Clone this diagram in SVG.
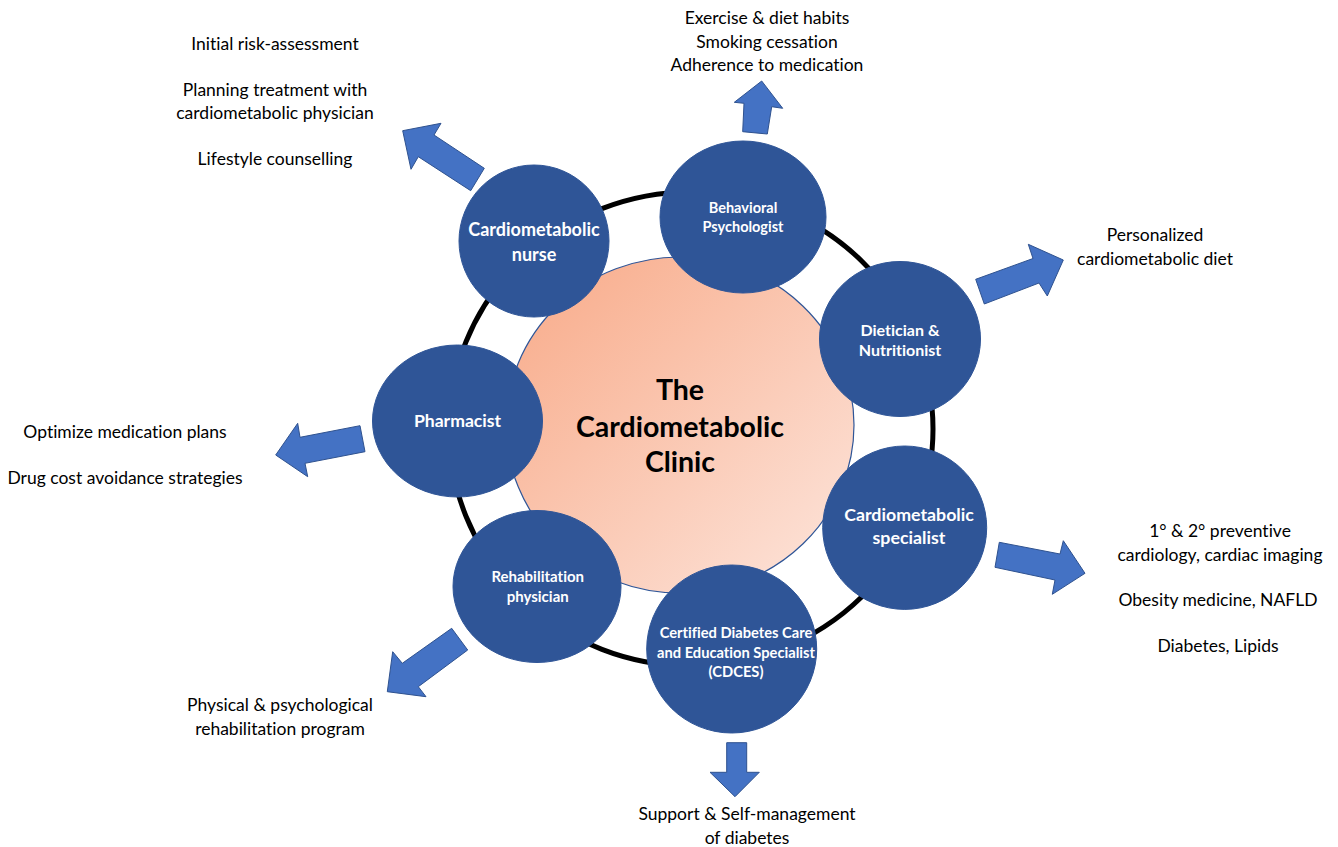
<svg xmlns="http://www.w3.org/2000/svg" width="1338" height="847" viewBox="0 0 1338 847">
<defs>
<linearGradient id="cg" x1="0" y1="0" x2="1" y2="1">
<stop offset="0" stop-color="#F8A987"/>
<stop offset="1" stop-color="#FDE6DD"/>
</linearGradient>
</defs>
<style>
text{font-variant-ligatures:none;font-feature-settings:"liga" 0,"dlig" 0}
.node{fill:#2F5597;stroke:#2F5597;stroke-width:1}
.nt{font-family:Lato,"Open Sans","Liberation Sans",sans-serif;font-weight:bold;fill:#FFFFFF;text-anchor:middle}
.lbl{font-family:Lato,"Open Sans","Liberation Sans",sans-serif;font-size:17.5px;fill:#000000;text-anchor:middle}
.arr{fill:#4472C4;stroke:#2F528F;stroke-width:1;stroke-linejoin:miter}
</style>
<rect width="1338" height="847" fill="#FFFFFF"/>
<g id="ring">
<ellipse cx="691" cy="429" rx="242" ry="237" fill="none" stroke="#000000" stroke-width="5"/>
</g>
<g id="clinic">
<ellipse cx="680" cy="425" rx="174" ry="168" fill="url(#cg)" stroke="#2F5597" stroke-width="1.2"/>
<text class="nt" style="fill:#000000" font-size="28.5" x="680" y="400">The</text>
<text class="nt" style="fill:#000000" font-size="28.5" x="680" y="436.5">Cardiometabolic</text>
<text class="nt" style="fill:#000000" font-size="28.5" x="680" y="471.5">Clinic</text>
</g>
<g id="nurse">
<ellipse class="node" cx="534" cy="241" rx="75" ry="76"/>
<text class="nt" font-size="18" x="534" y="236">Cardiometabolic</text>
<text class="nt" font-size="18" x="534" y="261">nurse</text>
</g>
<g id="psychologist">
<ellipse class="node" cx="743" cy="217" rx="83" ry="76"/>
<text class="nt" font-size="14.5" x="743" y="213">Behavioral</text>
<text class="nt" font-size="14.5" x="743" y="231.5">Psychologist</text>
</g>
<g id="dietician">
<ellipse class="node" cx="900" cy="339" rx="80.5" ry="77.5"/>
<text class="nt" font-size="16" x="900" y="335.5">Dietician &amp;</text>
<text class="nt" font-size="16" x="900" y="355.5">Nutritionist</text>
</g>
<g id="pharmacist">
<ellipse class="node" cx="457.5" cy="421" rx="85" ry="76"/>
<text class="nt" font-size="17.6" x="457.5" y="427">Pharmacist</text>
</g>
<g id="specialist">
<ellipse class="node" cx="904.7" cy="527.7" rx="82" ry="81.7"/>
<text class="nt" font-size="17.8" x="909" y="520.5">Cardiometabolic</text>
<text class="nt" font-size="17.8" x="909" y="543.5">specialist</text>
</g>
<g id="rehab">
<ellipse class="node" cx="537" cy="586.5" rx="84" ry="76"/>
<text class="nt" font-size="15" x="537.7" y="582">Rehabilitation</text>
<text class="nt" font-size="15" x="537.7" y="601.5">physician</text>
</g>
<g id="cdces">
<ellipse class="node" cx="731.7" cy="649" rx="85" ry="84"/>
<text class="nt" font-size="14.7" x="736" y="638">Certified Diabetes Care</text>
<text class="nt" font-size="14.7" x="736" y="657.5">and Education Specialist</text>
<text class="nt" font-size="14.7" x="736" y="677">(CDCES)</text>
</g>
<g id="connectors">
<polygon class="arr" points="402.7,130.7 441,123.3 434,135 484.3,168.3 470.7,190.7 418.3,156.7 411,169.3"/>
<polygon class="arr" points="761.7,81 782.7,108.3 771.7,106.7 767.3,134 742.7,131.7 744,103.3 734.3,102.3"/>
<polygon class="arr" points="1063.3,260 1047.3,296 1039,283 984.3,304 975.7,279.3 1033,258.5 1028.3,244.3"/>
<polygon class="arr" points="275.7,455 297.7,423.3 300,437.3 360,425.7 365,451.7 305,463.3 307.7,476.7"/>
<polygon class="arr" points="1085,573.3 1052.3,594.3 1055,580 995,567.3 999.3,542.3 1060,554 1063.3,540.7"/>
<polygon class="arr" points="387.3,691.7 392.7,651.7 402.3,663.3 451.7,628.3 467.7,650 418.3,686.7 426,696.7"/>
<polygon class="arr" points="735,796.7 710,772.3 726.7,772.3 726.7,742.7 746.7,742.7 746.7,772.3 759.3,772.3"/>
</g>
<g id="labels">
<text class="lbl" x="275" y="50">Initial risk-assessment</text>
<text class="lbl" x="275" y="96">Planning treatment with</text>
<text class="lbl" x="275" y="119">cardiometabolic physician</text>
<text class="lbl" x="275" y="165">Lifestyle counselling</text>
<text class="lbl" x="767" y="24">Exercise &amp; diet habits</text>
<text class="lbl" x="767" y="48">Smoking cessation</text>
<text class="lbl" x="767" y="71">Adherence to medication</text>
<text class="lbl" x="1155" y="241">Personalized</text>
<text class="lbl" x="1155" y="265">cardiometabolic diet</text>
<text class="lbl" x="125" y="438">Optimize medication plans</text>
<text class="lbl" x="125" y="484">Drug cost avoidance strategies</text>
<text class="lbl" x="1220" y="537">1° &amp; 2° preventive</text>
<text class="lbl" x="1220" y="561">cardiology, cardiac imaging</text>
<text class="lbl" x="1218" y="606">Obesity medicine, NAFLD</text>
<text class="lbl" x="1218" y="652">Diabetes, Lipids</text>
<text class="lbl" x="280" y="711">Physical &amp; psychological</text>
<text class="lbl" x="280" y="735">rehabilitation program</text>
<text class="lbl" x="747" y="820">Support &amp; Self-management</text>
<text class="lbl" x="747" y="844">of diabetes</text>
</g>
</svg>
